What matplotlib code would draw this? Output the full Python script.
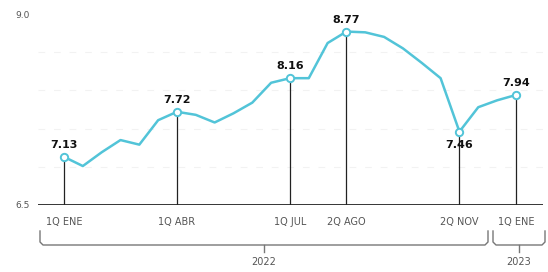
import matplotlib.pyplot as plt
import matplotlib.transforms as mtransforms

# quincenas from 1Q ENE 2022 to 1Q ENE 2023
values = [7.13, 7.01, 7.19, 7.35, 7.29, 7.61, 7.72, 7.68, 7.58, 7.70, 7.84, 8.10,
          8.16, 8.16, 8.62, 8.77, 8.76, 8.70, 8.55, 8.36, 8.16, 7.46, 7.78, 7.87, 7.94]
marked = [0, 6, 12, 15, 21, 24]
tick_labels = ["1Q ENE", "1Q ABR", "1Q JUL", "2Q AGO", "2Q NOV", "1Q ENE"]
years = ["2022", "2023"]

cyan = "#52c4d8"
gray = "#555555"

fig = plt.figure(figsize=(5.48, 2.72), dpi=100)
ax = fig.add_axes([38 / 548, 67 / 272, 505 / 548, 191 / 272])
x = list(range(len(values)))

ax.set_xlim((38 - 64) / 18.83, (543 - 64) / 18.83)
ax.set_ylim(6.5, 9.0)

for g in [7.0, 7.5, 8.0, 8.5]:
    ax.axhline(g, color="#f2f2f2", lw=0.8, ls=(0, (6, 8)), zorder=0)

ax.plot(x, values, color=cyan, lw=1.8, zorder=3, solid_joinstyle="round")
for i in marked:
    ax.plot([i, i], [6.5, values[i]], color="#222222", lw=0.9, zorder=2)
ax.scatter([x[i] for i in marked], [values[i] for i in marked], s=28,
           facecolor="white", edgecolor=cyan, linewidth=1.4, zorder=4)

for i in marked:
    if i == 21:
        ax.annotate(f"{values[i]:.2f}", (i, values[i]), xytext=(0, -6),
                    textcoords="offset points", ha="center", va="top",
                    fontsize=8, fontweight="bold", color="#111111", zorder=6)
    else:
        ax.annotate(f"{values[i]:.2f}", (i, values[i]), xytext=(0, 5),
                    textcoords="offset points", ha="center", va="bottom",
                    fontsize=8, fontweight="bold", color="#111111")

ax.axhline(6.5, color="#222222", lw=2.0, zorder=5)
for s in ax.spines.values():
    s.set_visible(False)
ax.set_xticks([])
ax.set_yticks([6.5, 9.0])
ax.set_yticklabels(["6.5", "9.0"], fontsize=6.5, color=gray)
ax.tick_params(axis="y", length=0, pad=6)

trans = mtransforms.blended_transform_factory(ax.transData, ax.transAxes)

def yf(py):
    return (205 - py) / 191

def xd(px):
    return (px - 64) / 18.83

for i, lab in zip(marked, tick_labels):
    ax.text(i, yf(222), lab, transform=trans, ha="center", va="center",
            fontsize=7, color=gray, clip_on=False)

# year brackets
def bracket(x0, x1, label):
    xs = [xd(x0), xd(x0), xd(x0 + 3), xd(x1 - 3), xd(x1), xd(x1)]
    ys = [yf(231), yf(242), yf(245), yf(245), yf(242), yf(231)]
    ax.plot(xs, ys, transform=trans, color="#777777", lw=1.0, clip_on=False,
            solid_joinstyle="round")
    xm = (xd(x0) + xd(x1)) / 2
    ax.plot([xm, xm], [yf(245), yf(252)], transform=trans, color="#777777",
            lw=1.0, clip_on=False)
    ax.text(xm, yf(262), label, transform=trans, ha="center", va="center",
            fontsize=7, color=gray, clip_on=False)

bracket(40, 488, years[0])
bracket(493, 545, years[1])

fig.savefig("out.png", dpi=100)
